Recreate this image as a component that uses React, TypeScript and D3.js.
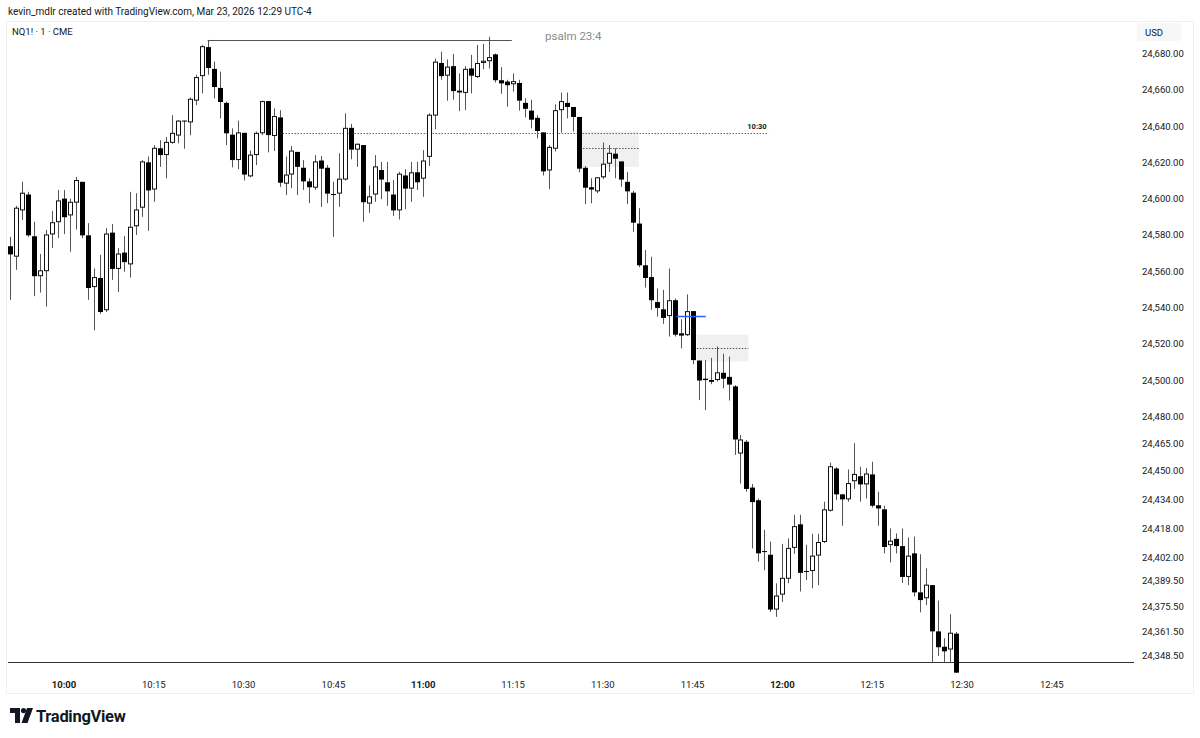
import React from 'react';
import * as d3 from 'd3';

// ---- Data (1-minute NQ1! candles starting 09:51) ----
const startMinute = -9; // minutes relative to 10:00
const opens = [24573.5,24567.75,24593.25,24602,24579,24557,24559.75,24580,24586.75,24599.75,24590.5,24597.5,24609,24579.5,24551,24556,24538.25,24581,24561,24570,24563.5,24584.5,24594.75,24619.75,24604.75,24627.5,24623.75,24630.5,24634.5,24642.75,24641.75,24653.75,24667.25,24683.25,24671.25,24660.75,24652.5,24635,24621,24636,24612,24623.75,24635.75,24653.5,24634.25,24644.5,24608,24613,24625.5,24616.75,24609.25,24605.75,24620.75,24616.75,24602.25,24602.5,24610.25,24638.75,24626.75,24629.25,24597,24602,24615.5,24608.75,24602,24593.25,24612.5,24605.25,24614.25,24610.75,24622.75,24645.5,24674.5,24667.5,24672.75,24659.25,24658,24671.5,24666.75,24674.5,24675.5,24679.25,24665,24664.25,24662.75,24663.5,24652.5,24648.25,24644.25,24636.25,24615.25,24627.25,24648.5,24652.5,24650.25,24644.75,24616.75,24606,24603.75,24611.5,24619,24624.5,24620.25,24609,24603,24586,24563,24556.5,24542.75,24538.75,24535,24543.75,24525.5,24524.5,24537.75,24510.5,24500.5,24499.75,24499.75,24503.75,24501.5,24496.25,24459.25,24465.75,24440.5,24433.5,24405.5,24403.5,24373.25,24381.5,24390.25,24407.25,24420.25,24394.5,24394.5,24403,24410.5,24427.75,24451,24436.75,24434,24444,24446.75,24442.25,24447.75,24430.75,24428.5,24408.75,24412.25,24408.25,24391.25,24404.25,24382.75,24379.5,24386.75,24361.25,24352.75,24351.25,24360];
const highs = [24579,24596,24609.25,24603.75,24587.25,24569.5,24582.75,24593.25,24604.75,24604.75,24600,24612,24609.25,24586.5,24561.5,24569,24583.75,24586,24572.75,24579.5,24603.75,24603,24621.25,24623.25,24629.5,24632.25,24634,24646,24643.25,24643,24655.75,24668.25,24684.75,24687.5,24675.5,24670,24653.5,24638.75,24643,24636.25,24626.5,24637,24654,24653.75,24649.75,24648.75,24623.25,24629,24625.75,24621.25,24611.25,24624,24623.5,24618.5,24609.25,24625,24647,24641.25,24630.25,24629.5,24607.25,24624,24620.25,24620.25,24610.25,24614.75,24616.25,24620.25,24620.25,24626.75,24647,24677.25,24681,24676.75,24679.75,24669,24673,24679.25,24684.75,24685.25,24689.25,24680,24672.5,24665.5,24669,24665.5,24655.25,24654.5,24646,24636.5,24629.5,24652,24658.5,24658.5,24650.5,24645,24618,24611.25,24611.75,24631,24629.5,24627.75,24620.5,24614.75,24604.25,24594.75,24571.75,24568,24550.5,24549.75,24561.5,24545,24533.5,24547.25,24538,24510.75,24511,24512.25,24518.5,24514.5,24513,24497.25,24469.75,24467,24442.75,24434.75,24417.5,24411,24388,24409.75,24412.75,24425.75,24425.75,24409.25,24415.25,24415.25,24433,24454.5,24452,24437.25,24450.75,24465.25,24452.25,24451.5,24455,24438.5,24430.75,24418.25,24415.5,24418.25,24413.25,24413.75,24404,24396.25,24387,24378.5,24357.75,24371,24361.25];
const lows = [24544.25,24560.75,24588.25,24579,24546.25,24548.25,24540.5,24572.75,24578.25,24580.5,24570.75,24583,24578.25,24544.25,24527.5,24536.5,24537.5,24555.25,24548.5,24559.75,24556.5,24580,24590,24582.25,24598.25,24617.5,24611.25,24630.25,24630.5,24627.5,24635,24651.5,24658,24668.25,24655.25,24644.25,24629.5,24617.25,24616.25,24610,24611.75,24618.5,24635,24625.5,24626.25,24606.5,24602,24605.75,24602,24604.75,24597.5,24604.75,24595.5,24597.5,24579,24595.5,24610,24621.75,24617.5,24587.25,24592.25,24598.25,24599.75,24596,24590.5,24588.5,24594.25,24598.25,24604.75,24601,24618,24638.25,24665.5,24654,24654.5,24648.25,24648.75,24658,24666.5,24671.25,24671.75,24664,24657.75,24650.75,24659,24648.5,24644.75,24638.75,24633.25,24612.75,24605.25,24626,24636.5,24644.25,24637,24614.5,24597,24597.5,24603,24610.75,24614.75,24611.25,24606.5,24597,24581.75,24562.25,24551,24538.75,24535,24531,24524,24524,24517.5,24524.25,24508.75,24489,24483.5,24497.75,24499.25,24495.5,24488.75,24458.75,24443,24438.5,24407.25,24400,24395.25,24372.25,24369.5,24377.75,24388,24404.25,24383.5,24389.75,24385.25,24387,24410.25,24427.5,24434,24419.75,24433,24440,24433,24434.75,24429.75,24419.75,24404.5,24399.5,24404.5,24388.25,24387,24380.75,24372,24376,24344.25,24348,24344.75,24344.25,24338.5];
const closes = [24569,24594.75,24603,24579.5,24557,24560.25,24580,24586.75,24598.75,24589.5,24598,24610,24579.5,24550.5,24556.5,24537.25,24580.5,24561,24569.5,24564.75,24584.25,24593.75,24620.25,24604.25,24627.75,24623.75,24631,24636,24642.75,24642.25,24654.75,24666.75,24683.75,24671.75,24661.25,24653,24635.75,24621,24636.25,24613,24624,24636,24653.5,24634.75,24645.25,24608.5,24613,24626.25,24617.25,24609.25,24606,24620.25,24616.25,24602.5,24602,24610.75,24638.75,24626.75,24630,24597.75,24601,24617.5,24610.25,24603.75,24593.25,24613.5,24605.25,24614.25,24608.75,24620.75,24646,24675.25,24667.25,24672.5,24659,24658.25,24671.25,24667.5,24674.5,24675.75,24677.75,24665,24663.25,24662.25,24664.5,24653.75,24649.25,24643.25,24637,24614.75,24628.25,24648.5,24653.5,24650.25,24644.75,24616.25,24605.75,24604.75,24611.5,24619,24625,24621.75,24610.25,24603.75,24586.5,24563,24556,24543.75,24539.5,24534,24543.75,24524.75,24524.25,24537.75,24510.75,24499.5,24499.75,24498.75,24504,24500.5,24497.25,24467,24467,24439.75,24432.5,24404.25,24405.25,24373.25,24381,24390.75,24407.25,24419.25,24393.5,24394.25,24403,24410.5,24428.5,24452.25,24436.75,24434,24443,24448,24442.25,24448.25,24430.5,24429,24407.75,24411.25,24408.25,24391.25,24403,24382.75,24378.5,24387,24361.25,24352.5,24350.25,24360.5,24338.5];

const priceTicks = [24680,24660,24640,24620,24600,24580,24560,24540,24520,24500,24480,24465,24450,24434,24418,24402,24389.5,24375.5,24361.5,24348.5];
const timeTickMinutes = [0,15,30,45,60,75,90,105,120,135,150,165]; // minutes after 10:00

// annotations (minutes after 10:00, prices)
const topLine = { from: 24, to: 74.8, price: 24687.5 };
const dottedLevel = { from: 36.5, to: 117.7, price: 24636.25, label: '10:30' };
const zones = [
  { from: 86.2, to: 96.0, top: 24637, bottom: 24617.5, mid: 24627.75 },
  { from: 105.7, to: 114.3, top: 24525, bottom: 24510.25, mid: 24517.5 },
];
const blueLine = { from: 102.3, to: 107.2, price: 24535.25 };
const lowLine = { price: 24344.5 };

const W = 1200, H = 738;
const PLOT_L = 8, PLOT_R = 1134, PLOT_T = 22, PLOT_B = 675;
const FONT = 'Roboto, "Noto Sans", sans-serif';

const x = d3.scaleLinear().domain([0, 150]).range([64, 962]);
const y = d3.scaleLinear().domain([24348.5, 24680]).range([655, 53.5]);

function fmtTime(m: number) {
  const h = 10 + Math.floor(m / 60);
  const mm = m % 60;
  return `${h}:${mm.toString().padStart(2, '0')}`;
}
const fmtPrice = d3.format(',.2f');

function Logo() {
  return (
    <g transform="translate(10,708)">
      <path d="M0,0 H10 V15 H5 V5 H0 Z" fill="#131722" />
      <circle cx={13.5} cy={2.6} r={2.6} fill="#131722" />
      <path d="M17,0 H23 L17.5,15 H11.5 Z" fill="#131722" />
      <text x={26} y={13.5} fontFamily={FONT} fontWeight={700} fontSize={16.5} fill="#131722" letterSpacing={-0.3}>TradingView</text>
    </g>
  );
}

export default function App() {
  const candles = opens.map((o, i) => ({
    m: startMinute + i, o, h: Math.max(highs[i], o, closes[i]), l: Math.min(lows[i], o, closes[i]), c: closes[i],
  }));
  return (
    <svg width={W} height={H} style={{ position: 'absolute', left: 0, top: 0, background: '#fff' }} fontFamily={FONT}>
      <rect width={W} height={H} fill="#fff" />
      <text x={8} y={15} fontSize={10} fill="#131722">kevin_mdlr created with TradingView.com, Mar 23, 2026 12:29 UTC-4</text>
      {/* panel frame */}
      <rect x={6.5} y={21.5} width={1187} height={672} fill="none" stroke="#eef0f3" />
      <text x={12} y={35} fontSize={9.5} fill="#131722">NQ1! · 1 · CME</text>
      <defs>
        <clipPath id="plot"><rect x={PLOT_L} y={PLOT_T} width={PLOT_R - PLOT_L} height={PLOT_B - PLOT_T} /></clipPath>
      </defs>
      <g clipPath="url(#plot)">
        {zones.map((z, i) => (
          <g key={i}>
            <rect x={x(z.from)} y={y(z.top)} width={x(z.to) - x(z.from)} height={y(z.bottom) - y(z.top)} fill="#f0f0f0" />
            <line x1={x(z.from)} x2={x(z.to)} y1={Math.round(y(z.mid)) + 0.5} y2={Math.round(y(z.mid)) + 0.5} stroke="#555" strokeDasharray="1.5,1.5" />
          </g>
        ))}
        <line x1={x(dottedLevel.from)} x2={x(dottedLevel.to)} y1={Math.round(y(dottedLevel.price)) + 0.5} y2={Math.round(y(dottedLevel.price)) + 0.5} stroke="#666" strokeDasharray="1.5,1.5" />
        <text x={x(dottedLevel.to) - 2} y={y(dottedLevel.price) - 4} textAnchor="end" fontSize={7.5} fontWeight={700} fill="#131722">{dottedLevel.label}</text>
        <line x1={x(topLine.from)} x2={x(topLine.to)} y1={Math.round(y(topLine.price)) + 0.5} y2={Math.round(y(topLine.price)) + 0.5} stroke="#555" />
        <line x1={PLOT_L} x2={PLOT_R} y1={Math.round(y(lowLine.price)) + 0.5} y2={Math.round(y(lowLine.price)) + 0.5} stroke="#333" />
        {candles.map((d, i) => {
          const cx = Math.round(x(d.m));
          const up = d.c >= d.o;
          const yTop = y(Math.max(d.o, d.c));
          const yBot = y(Math.min(d.o, d.c));
          const hgt = Math.max(1, yBot - yTop);
          return (
            <g key={i}>
              <line x1={cx + 0.5} x2={cx + 0.5} y1={y(d.h)} y2={y(d.l)} stroke="#555" />
              {up ? (
                <rect x={cx - 1.5} y={yTop} width={4} height={Math.max(0.5, hgt - 1)} fill="#fff" stroke="#111" strokeWidth={1} />
              ) : (
                <rect x={cx - 2} y={yTop - 0.5} width={5} height={hgt} fill="#000" />
              )}
            </g>
          );
        })}
        <line x1={x(blueLine.from)} x2={x(blueLine.to)} y1={Math.round(y(blueLine.price)) + 0.5} y2={Math.round(y(blueLine.price)) + 0.5} stroke="#2962ff" strokeWidth={1.5} />
      </g>
      <text x={545} y={40} fontSize={11.5} fill="#8a8a8a">psalm 23:4</text>
      {/* price axis */}
      <rect x={1137} y={23} width={44} height={18} rx={3} fill="#f7f7f8" />
      <text x={1145} y={35.5} fontSize={9.5} fill="#131722">USD</text>
      {priceTicks.map((p) => (
        <text key={p} x={1142} y={y(p) + 3.5} fontSize={9.5} fill="#131722">{fmtPrice(p)}</text>
      ))}
      {/* time axis */}
      {timeTickMinutes.map((m) => (
        <text key={m} x={x(m)} y={688} textAnchor="middle" fontSize={9.5} fontWeight={m % 60 === 0 ? 700 : 400} fill="#131722">{fmtTime(m)}</text>
      ))}
      <Logo />
    </svg>
  );
}
